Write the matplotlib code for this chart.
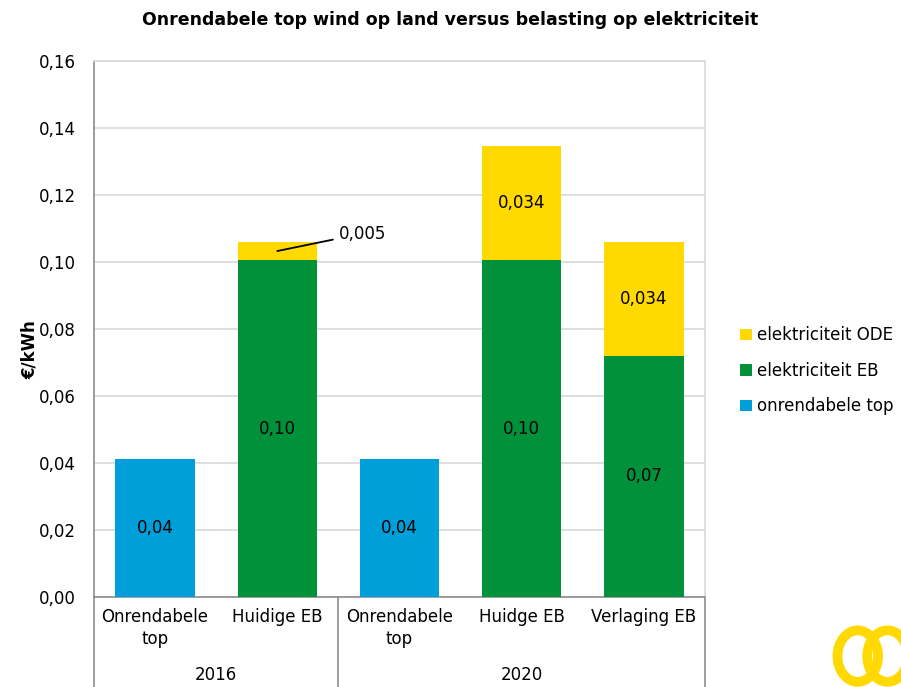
import matplotlib.pyplot as plt
from matplotlib.patches import Ellipse
from matplotlib.ticker import FuncFormatter
import matplotlib.transforms as mtransforms

plt.rcParams['font.family'] = ['DejaVu Sans']

categories = ["Onrendabele\ntop", "Huidige EB", "Onrendabele\ntop", "Huidge EB", "Verlaging EB"]
groups = ["2016", "2020"]
group_spans = [(0, 1), (2, 4)]

onrendabele_top = [0.0413, 0, 0.0413, 0, 0]
elektriciteit_eb = [0, 0.1005, 0, 0.1005, 0.072]
elektriciteit_ode = [0, 0.0056, 0, 0.0343, 0.0341]

top_labels = ["0,04", "", "0,04", "", ""]
eb_labels = ["", "0,10", "", "0,10", "0,07"]
ode_labels = ["", "", "", "0,034", "0,034"]

c_blue = "#009FDA"
c_green = "#00913A"
c_yellow = "#FFD900"

fig = plt.figure(figsize=(9.01, 6.87), dpi=100)
ax = fig.add_axes([0.1043, 0.131, 0.6782, 0.780])

x = list(range(len(categories)))
w = 0.65
b1 = ax.bar(x, onrendabele_top, w, color=c_blue, label="onrendabele top", zorder=3)
b2 = ax.bar(x, elektriciteit_eb, w, bottom=onrendabele_top, color=c_green,
            label="elektriciteit EB", zorder=3)
bottom2 = [a + b for a, b in zip(onrendabele_top, elektriciteit_eb)]
b3 = ax.bar(x, elektriciteit_ode, w, bottom=bottom2, color=c_yellow,
            label="elektriciteit ODE", zorder=3)

for i in x:
    if top_labels[i]:
        ax.text(i, onrendabele_top[i] / 2, top_labels[i], ha="center", va="center",
                fontsize=12, zorder=4)
    if eb_labels[i]:
        ax.text(i, onrendabele_top[i] + elektriciteit_eb[i] / 2, eb_labels[i],
                ha="center", va="center", fontsize=12, zorder=4)
    if ode_labels[i]:
        ax.text(i, bottom2[i] + elektriciteit_ode[i] / 2, ode_labels[i],
                ha="center", va="center", fontsize=12, zorder=4)

# callout for the thin ODE slice in 2016
ax.annotate("0,005", xy=(1, bottom2[1] + elektriciteit_ode[1] / 2), xytext=(1.5, 0.1085),
            fontsize=12, ha="left", va="center",
            arrowprops=dict(arrowstyle="-", color="black", lw=1.3,
                            shrinkA=2, shrinkB=0), zorder=5)

ax.set_ylim(0, 0.16)
ax.set_xlim(-0.5, len(categories) - 0.5)
ax.set_yticks([i * 0.02 for i in range(9)])
ax.yaxis.set_major_formatter(FuncFormatter(lambda v, p: f"{v:.2f}".replace(".", ",")))
ax.tick_params(axis="y", length=0, labelsize=12, pad=13)
ax.tick_params(axis="x", length=0, labelsize=12, pad=8)
ax.set_xticks(x)
ax.set_xticklabels(categories, linespacing=1.3)
ax.grid(axis="y", color="#D9D9D9", lw=1.2, zorder=0)
ax.set_axisbelow(True)

for s in ["top", "right"]:
    ax.spines[s].set_color("#D9D9D9")
    ax.spines[s].set_linewidth(1.2)
for s in ["left", "bottom"]:
    ax.spines[s].set_color("#8C8C8C")
    ax.spines[s].set_linewidth(1.2)

fig.text(30 / 901, 1 - 350 / 687, "€/kWh", rotation=90, ha="center", va="center",
         fontsize=12, fontweight="bold")

# group separators and labels below the axis
trans = mtransforms.blended_transform_factory(ax.transData, ax.transAxes)
for xs in [-0.5, 1.5, len(categories) - 0.5]:
    ax.plot([xs, xs], [0, -0.17], color="#8C8C8C", lw=1.2, transform=trans, clip_on=False)
for g, (a, b) in zip(groups, group_spans):
    ax.text((a + b) / 2, -0.146, g, transform=trans, ha="center", va="center", fontsize=12)

fig.text(0.5, 0.971, "Onrendabele top wind op land versus belasting op elektriciteit",
         ha="center", va="center", fontsize=12.5, fontweight="bold")

handles = [b3, b2, b1]
fig.legend(handles, [h.get_label() for h in handles], loc="center left",
           bbox_to_anchor=(0.805, 0.46), frameon=False, fontsize=12,
           handlelength=0.7, handleheight=0.7, handletextpad=0.3, labelspacing=1.05)

# small logo in the corner
fig.patches.append(Ellipse((0.952, 0.045), 0.045, 0.075, transform=fig.transFigure,
                           fill=False, ec=c_yellow, lw=7, figure=fig))
fig.patches.append(Ellipse((0.985, 0.045), 0.045, 0.075, transform=fig.transFigure,
                           fill=False, ec=c_yellow, lw=7, figure=fig))

fig.savefig("out.png", dpi=100)
